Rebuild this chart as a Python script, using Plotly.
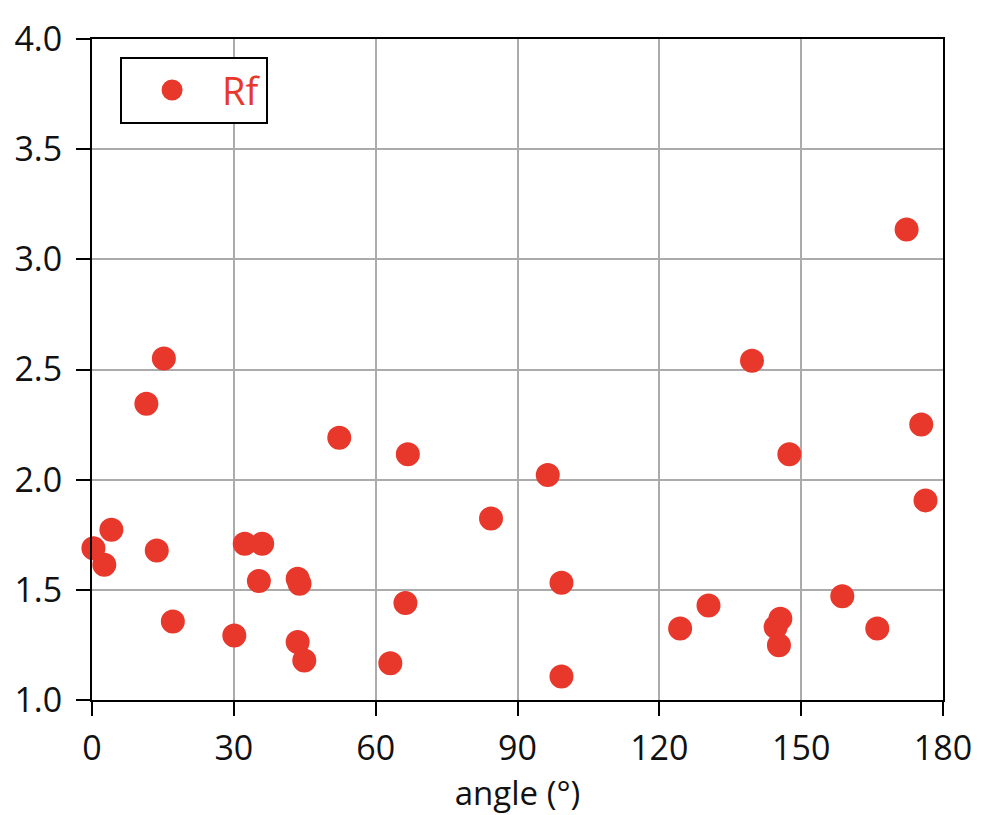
import plotly.graph_objects as go

# Measured Rf values against angle (degrees)
angle = [15.2, 11.5, 52.3, 4.1, 0.3, 2.6, 13.7, 32.3, 36.0, 35.3, 43.5, 43.9,
         17.1, 30.1, 43.5, 44.9,
         66.8, 96.4, 84.4, 99.3, 66.3, 63.1, 99.3,
         172.3, 139.6, 175.4, 147.5, 176.3, 158.7, 130.4, 124.4, 166.1,
         145.6, 144.6, 145.3]
rf = [2.55, 2.345, 2.19, 1.773, 1.689, 1.614, 1.679, 1.709, 1.709, 1.54, 1.55, 1.528,
      1.356, 1.293, 1.263, 1.179,
      2.115, 2.021, 1.824, 1.532, 1.44, 1.167, 1.107,
      3.135, 2.54, 2.25, 2.115, 1.906, 1.471, 1.429, 1.325, 1.325,
      1.369, 1.331, 1.248]

x_ticks = [0, 30, 60, 90, 120, 150, 180]
y_ticks = [1.0, 1.5, 2.0, 2.5, 3.0, 3.5, 4.0]

RED = "#E8382B"
FONT = "Open Sans"
INK = "#111111"

fig = go.Figure()
fig.add_trace(go.Scatter(
    x=angle, y=rf, mode="markers", name="Rf",
    marker=dict(size=19, color=RED, line=dict(color=RED, width=5)),
    cliponaxis=False,
))

axis_common = dict(
    showline=True, linecolor="black", linewidth=2, mirror=True,
    showgrid=True, gridcolor="#ababab", gridwidth=2,
    ticks="outside", ticklen=14, tickwidth=2, tickcolor="black",
    zeroline=False,
    tickfont=dict(family=FONT, size=34, color=INK),
)

fig.update_xaxes(
    range=[0, 180], tickvals=x_ticks, ticktext=[str(v) for v in x_ticks],
    title=dict(text="angle (°)", font=dict(family=FONT, size=33, color=INK), standoff=10),
    ticklabelstandoff=3,
    **axis_common,
)
fig.update_yaxes(
    range=[1.0, 4.0], tickvals=y_ticks, ticktext=[f"{v:.1f}" for v in y_ticks],
    ticklabelstandoff=7,
    **axis_common,
)

fig.update_layout(
    width=984, height=815,
    margin=dict(l=92, r=36, t=39, b=115),
    paper_bgcolor="white", plot_bgcolor="white",
    showlegend=True,
    legend=dict(
        x=0.033, y=0.973, xanchor="left", yanchor="top",
        bordercolor="black", borderwidth=2, bgcolor="white",
        font=dict(family=FONT, size=38, color=RED),
        itemwidth=90,
    ),
)

fig.write_html("out.html")
